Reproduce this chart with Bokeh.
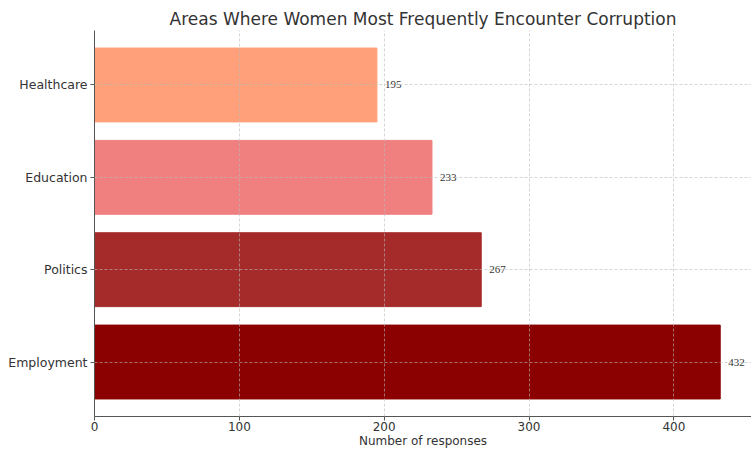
from bokeh.plotting import figure
from bokeh.models import ColumnDataSource, FactorRange, LabelSet, Range1d
from bokeh.embed import file_html
from bokeh.resources import INLINE

categories = ["Employment", "Politics", "Education", "Healthcare"]
responses = [432, 267, 233, 195]
colors = ["#8B0000", "#A52A2A", "#F08080", "#FFA07A"]
x_ticks = [0, 100, 200, 300, 400]

source = ColumnDataSource(dict(cat=categories, val=responses, color=colors,
                               txt=[str(v) for v in responses]))

p = figure(width=751, height=450, output_backend="svg", toolbar_location=None,
           y_range=FactorRange(factors=categories, range_padding=0.09,
                               range_padding_units="absolute"),
           x_range=Range1d(0, 453.6),
           title="Areas Where Women Most Frequently Encounter Corruption",
           min_border_left=94, min_border_right=0, min_border_top=30,
           min_border_bottom=32)

p.hbar(y="cat", right="val", left=0, height=0.8, color="color", source=source,
       line_color="color")

labels = LabelSet(x="val", y="cat", text="txt", source=source, x_offset=8,
                  text_baseline="middle", text_font_size="11px",
                  text_color="#333333", text_font="DejaVu Sans")
p.add_layout(labels)

p.title.align = "center"
p.title.offset = 4
p.title.text_font = "DejaVu Sans"
p.title.text_font_size = "17px"
p.title.text_font_style = "normal"
p.title.text_color = "#333333"
p.title.standoff = 4

p.xaxis.ticker = x_ticks
p.xaxis.axis_label = "Number of responses"
p.xaxis.axis_label_text_font = "DejaVu Sans"
p.xaxis.axis_label_text_font_size = "12px"
p.xaxis.axis_label_text_font_style = "normal"
p.xaxis.axis_label_standoff = 0
p.xaxis.major_label_standoff = 1

for ax in (p.xaxis, p.yaxis):
    ax.major_label_text_font = "DejaVu Sans"
    ax.major_label_text_color = "#333333"
    ax.axis_label_text_color = "#333333"
    ax.axis_line_color = "#555555"
    ax.major_tick_line_color = "#555555"
    ax.major_tick_out = 4
    ax.major_tick_in = 0
    ax.minor_tick_line_color = None

p.xaxis.major_label_text_font_size = "12px"
p.yaxis.major_label_text_font_size = "12.5px"
p.yaxis.major_label_standoff = 3

for g in (p.xgrid, p.ygrid):
    g.grid_line_color = "#bbbbbb"
    g.grid_line_dash = "3 2"
    g.grid_line_alpha = 0.6
    g.level = "overlay"

p.outline_line_color = None
p.background_fill_color = "white"

open("out.html", "w").write(file_html(p, INLINE))
